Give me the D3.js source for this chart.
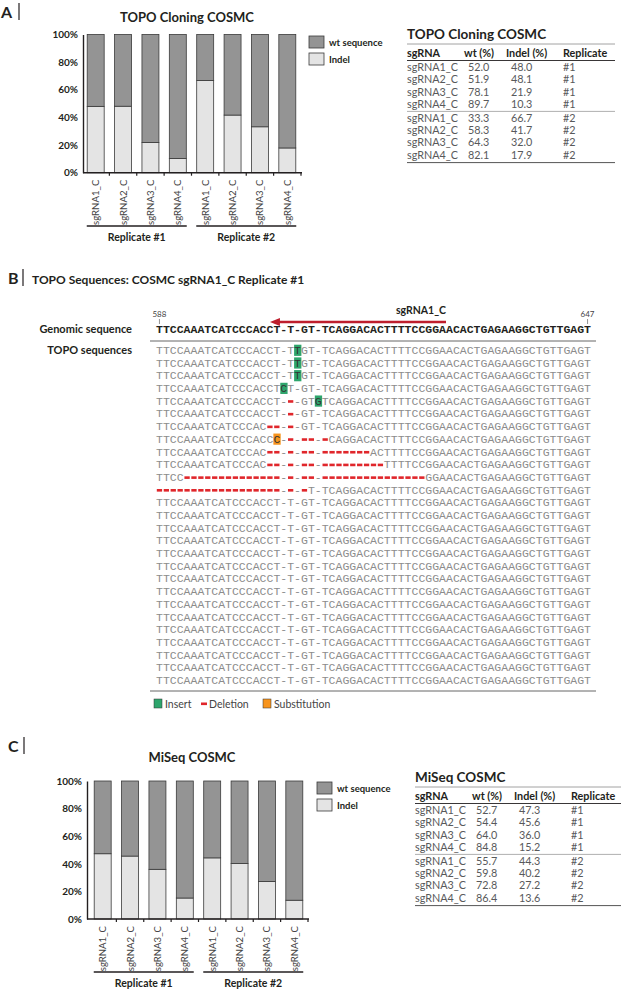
<!DOCTYPE html>
<html>
<head>
<meta charset="utf-8">
<script src="https://cdn.jsdelivr.net/npm/d3@7"></script>
<style>
  body { margin: 0; background: #fff; }
  svg { display: block; font-family: Lato, "Open Sans", sans-serif; }
</style>
</head>
<body>
<svg id="fig" width="623" height="989"></svg>
<script>
// ---- data ----
const sgRNAs = ["sgRNA1_C", "sgRNA2_C", "sgRNA3_C", "sgRNA4_C", "sgRNA1_C", "sgRNA2_C", "sgRNA3_C", "sgRNA4_C"];
const replicates = ["#1", "#1", "#1", "#1", "#2", "#2", "#2", "#2"];
const replicateGroups = ["Replicate #1", "Replicate #2"];

const topoWt = [52.0, 51.9, 78.1, 89.7, 33.3, 58.3, 64.3, 82.1];
const topoIndel = [48.0, 48.1, 21.9, 10.3, 66.7, 41.7, 32.0, 17.9];
const miseqWt = [52.7, 54.4, 64.0, 84.8, 55.7, 59.8, 72.8, 86.4];
const miseqIndel = [47.3, 45.6, 36.0, 15.2, 44.3, 40.2, 27.2, 13.6];
const yTicks = [0, 0.2, 0.4, 0.6, 0.8, 1];

// sequences: lowercase = inserted base, "~" = deleted base
const genomic = "TTCCAAATCATCCCACCT-T-GT-TCAGGACACTTTTCCGGAACACTGAGAAGGCTGTTGAGT";
const seqStart = 588, seqEnd = 647;
const guideSpan = [16, 41]; // arrow head .. tail (alignment columns)
const topoReads = [
  "TTCCAAATCATCCCACCT-TtGT-TCAGGACACTTTTCCGGAACACTGAGAAGGCTGTTGAGT",
  "TTCCAAATCATCCCACCT-TtGT-TCAGGACACTTTTCCGGAACACTGAGAAGGCTGTTGAGT",
  "TTCCAAATCATCCCACCT-TtGT-TCAGGACACTTTTCCGGAACACTGAGAAGGCTGTTGAGT",
  "TTCCAAATCATCCCACCTcT-GT-TCAGGACACTTTTCCGGAACACTGAGAAGGCTGTTGAGT",
  "TTCCAAATCATCCCACCT-~-GTgTCAGGACACTTTTCCGGAACACTGAGAAGGCTGTTGAGT",
  "TTCCAAATCATCCCACCT-~-GT-TCAGGACACTTTTCCGGAACACTGAGAAGGCTGTTGAGT",
  "TTCCAAATCATCCCAC~~-~-GT-TCAGGACACTTTTCCGGAACACTGAGAAGGCTGTTGAGT",
  "TTCCAAATCATCCCACCC-~-~~-~CAGGACACTTTTCCGGAACACTGAGAAGGCTGTTGAGT",
  "TTCCAAATCATCCCAC~~-~-~~-~~~~~~~ACTTTTCCGGAACACTGAGAAGGCTGTTGAGT",
  "TTCCAAATCATCCCAC~~-~-~~-~~~~~~~~~TTTTCCGGAACACTGAGAAGGCTGTTGAGT",
  "TTCC~~~~~~~~~~~~~~-~-~~-~~~~~~~~~~~~~~~GGAACACTGAGAAGGCTGTTGAGT",
  "~~~~~~~~~~~~~~~~~~-~-~T-TCAGGACACTTTTCCGGAACACTGAGAAGGCTGTTGAGT",
  "TTCCAAATCATCCCACCT-T-GT-TCAGGACACTTTTCCGGAACACTGAGAAGGCTGTTGAGT",
  "TTCCAAATCATCCCACCT-T-GT-TCAGGACACTTTTCCGGAACACTGAGAAGGCTGTTGAGT",
  "TTCCAAATCATCCCACCT-T-GT-TCAGGACACTTTTCCGGAACACTGAGAAGGCTGTTGAGT",
  "TTCCAAATCATCCCACCT-T-GT-TCAGGACACTTTTCCGGAACACTGAGAAGGCTGTTGAGT",
  "TTCCAAATCATCCCACCT-T-GT-TCAGGACACTTTTCCGGAACACTGAGAAGGCTGTTGAGT",
  "TTCCAAATCATCCCACCT-T-GT-TCAGGACACTTTTCCGGAACACTGAGAAGGCTGTTGAGT",
  "TTCCAAATCATCCCACCT-T-GT-TCAGGACACTTTTCCGGAACACTGAGAAGGCTGTTGAGT",
  "TTCCAAATCATCCCACCT-T-GT-TCAGGACACTTTTCCGGAACACTGAGAAGGCTGTTGAGT",
  "TTCCAAATCATCCCACCT-T-GT-TCAGGACACTTTTCCGGAACACTGAGAAGGCTGTTGAGT",
  "TTCCAAATCATCCCACCT-T-GT-TCAGGACACTTTTCCGGAACACTGAGAAGGCTGTTGAGT",
  "TTCCAAATCATCCCACCT-T-GT-TCAGGACACTTTTCCGGAACACTGAGAAGGCTGTTGAGT",
  "TTCCAAATCATCCCACCT-T-GT-TCAGGACACTTTTCCGGAACACTGAGAAGGCTGTTGAGT",
  "TTCCAAATCATCCCACCT-T-GT-TCAGGACACTTTTCCGGAACACTGAGAAGGCTGTTGAGT",
  "TTCCAAATCATCCCACCT-T-GT-TCAGGACACTTTTCCGGAACACTGAGAAGGCTGTTGAGT",
  "TTCCAAATCATCCCACCT-T-GT-TCAGGACACTTTTCCGGAACACTGAGAAGGCTGTTGAGT"
];
const topoSubstitutions = [[7, 17]]; // [row, column]

// ---- colours ----
const wtColor = "#949494", indelColor = "#e4e4e4", barStroke = "#3a3a3a";
const insertColor = "#2ea56c", deleteColor = "#e0262b", subColor = "#f7941d", arrowColor = "#be1e2d";
const ink = "#231f20", bodyGray = "#58595b";

const svg = d3.select("#fig");
svg.append("rect").attr("width", 623).attr("height", 989).attr("fill", "#fff");

function panelLabel(letter, x, y, barX) {
  svg.append("text").attr("x", x).attr("y", y)
    .attr("font-size", 16).attr("font-weight", 700).attr("fill", ink).text(letter);
  svg.append("line").attr("x1", barX).attr("x2", barX).attr("y1", y - 15).attr("y2", y + 2)
    .attr("stroke", ink).attr("stroke-width", 1.2);
}

function drawBars(o) {
  const g = svg.append("g");
  const data = sgRNAs.map((s, i) => ({ idx: i, indel: o.indel[i], wt: o.wt[i] }));
  const series = d3.stack().keys(["indel", "wt"]).offset(d3.stackOffsetExpand)(data);

  const x = d3.scaleBand().domain(d3.range(sgRNAs.length)).range(o.xRange)
    .paddingInner(0.38).paddingOuter(0.19);
  const y = d3.scaleLinear().domain([0, 1]).range(o.yRange);
  const fills = { indel: indelColor, wt: wtColor };

  g.append("text").attr("x", o.titleX).attr("y", o.titleY).attr("text-anchor", "middle")
    .attr("font-size", 13).attr("font-weight", 700).attr("fill", ink).text(o.title);

  g.selectAll("g.series").data(series).join("g")
    .attr("fill", d => fills[d.key])
    .selectAll("rect").data(d => d).join("rect")
    .attr("x", d => x(d.data.idx))
    .attr("width", x.bandwidth())
    .attr("y", d => y(d[1]))
    .attr("height", d => y(d[0]) - y(d[1]))
    .attr("stroke", barStroke).attr("stroke-width", 0.8);

  // y axis
  const ya = g.append("g").attr("transform", `translate(${o.axisX},0)`)
    .call(d3.axisLeft(y).tickValues(yTicks).tickFormat(d3.format(".0%")).tickSize(0).tickSizeOuter(0).tickPadding(5));
  ya.select(".domain").attr("stroke", ink).attr("stroke-width", 1.4);
  ya.selectAll("text").attr("font-family", "Lato, sans-serif").attr("font-size", 10)
    .attr("font-weight", 700).attr("fill", ink);

  // x axis with ticks on band boundaries
  const x0 = o.axisX, x1 = o.xRange[1] + 1;
  g.append("line").attr("x1", x0).attr("x2", x1).attr("y1", o.yRange[0]).attr("y2", o.yRange[0])
    .attr("stroke", ink).attr("stroke-width", 1.4);
  g.selectAll("line.tk").data(d3.range(1, sgRNAs.length + 1)).join("line")
    .attr("x1", k => o.xRange[0] + k * x.step()).attr("x2", k => o.xRange[0] + k * x.step())
    .attr("y1", o.yRange[0]).attr("y2", o.yRange[0] + 3)
    .attr("stroke", ink).attr("stroke-width", 1.2);

  g.selectAll("text.xl").data(sgRNAs).join("text")
    .attr("transform", (d, i) => `translate(${x(i) + x.bandwidth() / 2 + 3.5},${o.yRange[0] + 7}) rotate(-90)`)
    .attr("text-anchor", "end").attr("font-size", 9.6).attr("fill", "#444").text(d => d);

  // replicate brackets
  replicateGroups.forEach((lab, gi) => {
    const idx = d3.range(sgRNAs.length).filter(i => replicates[i] === "#" + (gi + 1));
    const cx = (x(idx[0]) + x(idx[idx.length - 1]) + x.bandwidth()) / 2;
    g.append("line").attr("x1", cx - 50).attr("x2", cx + 50).attr("y1", o.repY).attr("y2", o.repY)
      .attr("stroke", ink).attr("stroke-width", 1.3);
    g.append("text").attr("x", cx).attr("y", o.repY + 15).attr("text-anchor", "middle")
      .attr("font-size", 10.5).attr("font-weight", 700).attr("fill", ink).text(lab);
  });

  // legend
  const leg = [["wt sequence", wtColor], ["Indel", indelColor]];
  leg.forEach(([lab, c], i) => {
    g.append("rect").attr("x", o.legendX).attr("y", o.legendY + i * 17).attr("width", 15).attr("height", 12)
      .attr("fill", c).attr("stroke", barStroke).attr("stroke-width", 0.8);
    g.append("text").attr("x", o.legendX + 20).attr("y", o.legendY + i * 17 + 9.5)
      .attr("font-size", 9.5).attr("font-weight", 700).attr("fill", ink).text(lab);
  });
}

function drawTable(o) {
  const g = svg.append("g").attr("transform", `translate(${o.x},0)`);
  const T = o.titleY, w = o.width;
  const rowY = d3.scaleLinear().domain([0, 1]).range([T + 32, T + 32 + 12.3]);
  const rowPos = i => rowY(i) + (i >= 4 ? 1.5 : 0);

  g.append("text").attr("x", 0).attr("y", T).attr("font-size", 13.5).attr("font-weight", 700)
    .attr("fill", ink).text(o.title);
  g.append("line").attr("x1", 0).attr("x2", w).attr("y1", T + 5).attr("y2", T + 5)
    .attr("stroke", "#8a8a8a").attr("stroke-width", 0.8);

  const cols = [
    { head: "sgRNA", hx: 0, vx: 0, val: i => sgRNAs[i] },
    { head: "wt (%)", hx: 57, vx: 61, val: i => d3.format(".1f")(o.wt[i]) },
    { head: "Indel (%)", hx: 99, vx: 104, val: i => d3.format(".1f")(o.indel[i]) },
    { head: "Replicate", hx: 156, vx: 156, val: i => replicates[i] }
  ];
  cols.forEach(c => {
    g.append("text").attr("x", c.hx).attr("y", T + 18).attr("font-size", 10.8).attr("font-weight", 700)
      .attr("fill", ink).text(c.head);
    g.selectAll(null).data(d3.range(sgRNAs.length)).join("text")
      .attr("x", c.vx).attr("y", i => rowPos(i))
      .attr("font-size", 10.8).attr("fill", bodyGray).text(i => c.val(i));
  });
  g.append("line").attr("x1", 0).attr("x2", w).attr("y1", T + 21.5).attr("y2", T + 21.5)
    .attr("stroke", ink).attr("stroke-width", 0.9);
  g.append("line").attr("x1", 0).attr("x2", w).attr("y1", rowPos(3) + 3.5).attr("y2", rowPos(3) + 3.5)
    .attr("stroke", "#9a9a9a").attr("stroke-width", 0.8);
  g.append("line").attr("x1", 0).attr("x2", w).attr("y1", rowPos(7) + 4).attr("y2", rowPos(7) + 4)
    .attr("stroke", "#555").attr("stroke-width", 1);
}

// ---- panel A ----
panelLabel("A", 1, 18, 19);
drawBars({
  title: "TOPO Cloning COSMC", titleX: 187, titleY: 22, wt: topoWt, indel: topoIndel,
  axisX: 83, xRange: [82, 301], yRange: [172.7, 34.5], legendX: 309, legendY: 36, repY: 226
});
drawTable({ title: "TOPO Cloning COSMC", x: 407, width: 208, titleY: 39, wt: topoWt, indel: topoIndel });

// ---- panel B ----
panelLabel("B", 8, 284, 23);
svg.append("text").attr("x", 32).attr("y", 284).attr("font-size", 12).attr("font-weight", 700)
  .attr("fill", ink).text("TOPO Sequences: COSMC sgRNA1_C Replicate #1");

const seqX = d3.scaleBand().domain(d3.range(genomic.length)).range([156, 591]);
const cw = seqX.step();
const genomicY = 333;
const rowY = d3.scaleLinear().domain([0, topoReads.length - 1]).range([354, 684]);
const seqFont = "'Liberation Mono', 'DejaVu Sans Mono', monospace";
const seqSize = cw / 0.6;

svg.append("text").attr("x", 132).attr("y", genomicY).attr("text-anchor", "end")
  .attr("font-size", 11).attr("font-weight", 700).attr("fill", ink).text("Genomic sequence");
svg.append("text").attr("x", 132).attr("y", rowY(0)).attr("text-anchor", "end")
  .attr("font-size", 11).attr("font-weight", 700).attr("fill", ink).text("TOPO sequences");

// coordinate marks
[[0, seqStart], [genomic.length - 1, seqEnd]].forEach(([col, lab]) => {
  const cx = seqX(col) + cw / 2;
  svg.append("text").attr("x", cx).attr("y", 317).attr("text-anchor", "middle")
    .attr("font-size", 8).attr("fill", "#444").text(lab);
  svg.append("line").attr("x1", cx).attr("x2", cx).attr("y1", 319).attr("y2", 324)
    .attr("stroke", "#666").attr("stroke-width", 0.7);
});

// guide arrow
const ah = seqX(guideSpan[0]) + cw / 2, at = seqX(guideSpan[1]) + cw;
svg.append("line").attr("x1", ah + 8).attr("x2", at).attr("y1", 322).attr("y2", 322)
  .attr("stroke", arrowColor).attr("stroke-width", 2.6);
svg.append("path").attr("d", `M${ah},322 L${ah + 10},318 L${ah + 10},326 Z`).attr("fill", arrowColor);
svg.append("text").attr("x", at).attr("y", 314).attr("text-anchor", "end")
  .attr("font-size", 10.5).attr("font-weight", 700).attr("fill", ink).text("sgRNA1_C");

// genomic row
svg.append("g").selectAll("text").data(genomic.split("")).join("text")
  .attr("x", (c, i) => seqX(i) + cw / 2).attr("y", genomicY).attr("text-anchor", "middle")
  .attr("font-family", seqFont).attr("font-size", seqSize).attr("font-weight", 700)
  .attr("fill", ink).text(c => c);
svg.append("line").attr("x1", 150).attr("x2", 596).attr("y1", 341).attr("y2", 341)
  .attr("stroke", "#555").attr("stroke-width", 0.9);

// TOPO reads
const subSet = new Set(topoSubstitutions.map(([r, c]) => r + ":" + c));
topoReads.forEach((read, r) => {
  const g = svg.append("g");
  const y = rowY(r);
  const cells = read.split("").map((c, i) => ({ c, i,
    ins: c !== "-" && c !== "~" && c === c.toLowerCase(),
    del: c === "~",
    sub: subSet.has(r + ":" + i) }));
  g.selectAll("rect.hl").data(cells.filter(d => d.ins || d.sub)).join("rect")
    .attr("x", d => seqX(d.i)).attr("width", cw + 0.4)
    .attr("y", y - 9.3).attr("height", 11.2)
    .attr("fill", d => d.ins ? insertColor : subColor);
  g.selectAll("rect.del").data(cells.filter(d => d.del)).join("rect")
    .attr("x", d => seqX(d.i) + 0.8).attr("width", cw - 1.6)
    .attr("y", y - 4.6).attr("height", 2.6).attr("fill", deleteColor);
  g.selectAll("text").data(cells.filter(d => !d.del)).join("text")
    .attr("x", d => seqX(d.i) + cw / 2).attr("y", y).attr("text-anchor", "middle")
    .attr("font-family", seqFont).attr("font-size", seqSize)
    .attr("fill", d => (d.ins || d.sub) ? "#333" : "#8c8c8c")
    .text(d => d.c.toUpperCase());
});
svg.append("line").attr("x1", 150).attr("x2", 596).attr("y1", 691).attr("y2", 691)
  .attr("stroke", "#555").attr("stroke-width", 0.9);

// legend B
const legB = svg.append("g").attr("font-size", 10.5).attr("fill", "#444");
legB.append("rect").attr("x", 154).attr("y", 699).attr("width", 8).attr("height", 9)
  .attr("fill", insertColor).attr("stroke", "#333").attr("stroke-width", 0.5);
legB.append("text").attr("x", 165).attr("y", 707.5).text("Insert");
legB.append("rect").attr("x", 201).attr("y", 702.5).attr("width", 6).attr("height", 2.6).attr("fill", deleteColor);
legB.append("text").attr("x", 209).attr("y", 707.5).text("Deletion");
legB.append("rect").attr("x", 263).attr("y", 699).attr("width", 8).attr("height", 9)
  .attr("fill", subColor).attr("stroke", "#333").attr("stroke-width", 0.5);
legB.append("text").attr("x", 274).attr("y", 707.5).text("Substitution");

// ---- panel C ----
panelLabel("C", 8, 752, 24);
drawBars({
  title: "MiSeq COSMC", titleX: 192, titleY: 762, wt: miseqWt, indel: miseqIndel,
  axisX: 87, xRange: [89, 308], yRange: [919, 781], legendX: 317, legendY: 782, repY: 972
});
drawTable({ title: "MiSeq COSMC", x: 415, width: 206, titleY: 782, wt: miseqWt, indel: miseqIndel });
</script>
</body>
</html>
